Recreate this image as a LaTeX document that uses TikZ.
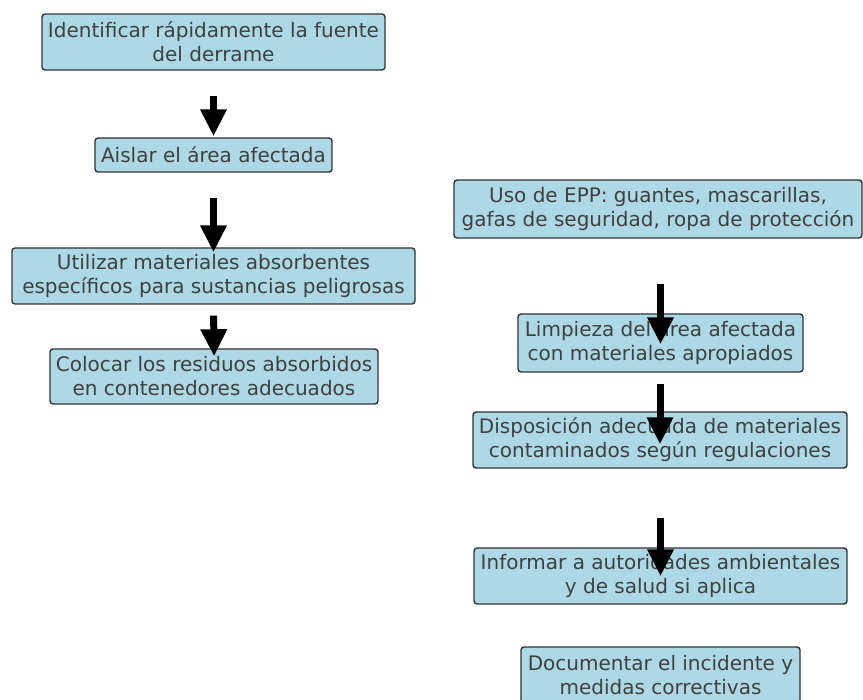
\documentclass[tikz,border=0pt]{standalone}
\usepackage{fontspec}
\setmainfont{DejaVu Sans}
\usepackage{tikz}
\usetikzlibrary{arrows.meta}
\definecolor{cajaazul}{HTML}{ADD8E6}
\tikzset{
	paso/.style={rectangle,rounded corners=3pt,draw=black!80,line width=1.4pt,fill=cajaazul,text=black!75,align=center,inner sep=0pt,font=\fontsize{20}{24}\selectfont},
	flecha/.style={-{Triangle[width=25pt,length=27pt]},line width=7pt,color=black}
}
\begin{document}
\begin{tikzpicture}[x=1pt,y=-1pt]
		\useasboundingbox (0,0) rectangle (863,700);
		\clip (0,0) rectangle (863,700);
		\fill[white] (0,0) rectangle (863,700);
		
		% columna izquierda
		\node[paso,minimum width=343pt,minimum height=56pt] (identificar) at (213.5,42) {Identificar rápidamente la fuente\\del derrame};
		\node[paso,minimum width=237pt,minimum height=34pt] (aislar) at (213.5,155) {Aislar el área afectada};
		\node[paso,minimum width=403pt,minimum height=56pt] (absorber) at (213.5,276) {Utilizar materiales absorbentes\\específicos para sustancias peligrosas};
		\node[paso,minimum width=328pt,minimum height=55pt] (colocar) at (214,376.5) {Colocar los residuos absorbidos\\en contenedores adecuados};
		
		% columna derecha
		\node[paso,minimum width=408pt,minimum height=58pt] (epp) at (658,209) {Uso de EPP: guantes, mascarillas,\\gafas de seguridad, ropa de protección};
		\node[paso,minimum width=285pt,minimum height=58pt] (limpieza) at (660.5,343) {Limpieza del área afectada\\con materiales apropiados};
		\node[paso,minimum width=374pt,minimum height=56pt] (disposicion) at (660,440) {Disposición adecuada de materiales\\contaminados según regulaciones};
		\node[paso,minimum width=373pt,minimum height=56pt] (informar) at (660.5,576) {Informar a autoridades ambientales\\y de salud si aplica};
		\node[paso,minimum width=279pt,minimum height=56pt] (documentar) at (660.5,675) {Documentar el incidente y\\medidas correctivas};
		
		\draw[flecha,shorten <=25pt,shorten >=1pt] (identificar.south) -- (aislar.north);
		\draw[flecha,shorten <=25pt,shorten >=-5pt] (aislar.south) -- (absorber.north);
		\draw[flecha,shorten <=11pt,shorten >=-8pt] (absorber.south) -- (colocar.north);
		
		\draw[flecha,shorten <=45pt,shorten >=-31pt] (limpieza.north |- epp.south) -- (limpieza.north);
		\draw[flecha,shorten <=11pt,shorten >=-33pt] (disposicion.north |- limpieza.south) -- (disposicion.north);
		\draw[flecha,shorten <=49pt,shorten >=-29pt] (informar.north |- disposicion.south) -- (informar.north);
		
		\end{tikzpicture}
\end{document}
